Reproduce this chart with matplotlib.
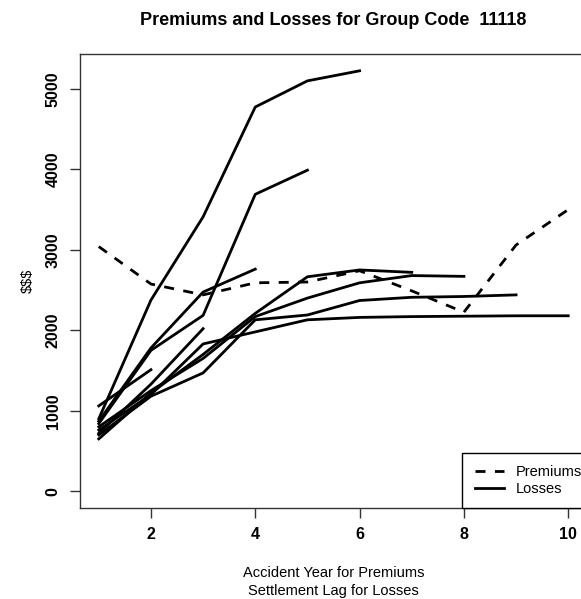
import numpy as np
import matplotlib.pyplot as plt

plt.rcParams['font.family'] = ['Liberation Sans', 'DejaVu Sans']

# accident years 1..10 (premiums) / settlement lags 1..10 (losses)
years = np.arange(1, 11)
premiums = [3040, 2575, 2440, 2590, 2600, 2740, 2490, 2225, 3060, 3500]

# cumulative paid losses, one row per accident year (triangle)
ay1 = [760, 1200, 1830, 1980, 2130, 2160, 2170, 2175, 2180, 2180]
ay2 = [700, 1180, 1470, 2130, 2190, 2370, 2410, 2420, 2440]
ay3 = [800, 1250, 1650, 2170, 2400, 2590, 2680, 2670]
ay4 = [650, 1220, 1700, 2210, 2665, 2750, 2720]
ay5 = [900, 2375, 3410, 4775, 5100, 5225]
ay6 = [840, 1750, 2185, 3690, 3990]
ay7 = [870, 1780, 2475, 2760]
ay8 = [720, 1330, 2020]
ay9 = [1060, 1510]
losses = [ay1, ay2, ay3, ay4, ay5, ay6, ay7, ay8, ay9]

fig = plt.figure(figsize=(5.81, 5.99), dpi=100)
ax = fig.add_axes([80/581, 91/599, 507/581, 454/599])

lw = 2.0
ax.plot(years, premiums, color='black', lw=lw, dashes=(3.6, 3.4), label='Premiums')
for i, row in enumerate(losses):
    ax.plot(years[:len(row)], row, color='black', lw=lw,
            label='Losses' if i == 0 else None)

ax.set_xlim(0.64, 10.36)
ax.set_ylim(-209, 5434)
ax.set_xticks([2, 4, 6, 8, 10])
ax.set_yticks([0, 1000, 2000, 3000, 4000, 5000])
ax.tick_params(direction='out', length=7, width=1, color='#333333', labelsize=11.5)
ax.tick_params(axis='x', pad=7)
ax.tick_params(axis='y', pad=7)
for lab in ax.get_xticklabels():
    lab.set_fontweight('bold')
for lab in ax.get_yticklabels():
    lab.set_fontweight('bold')
    lab.set_rotation(90)
    lab.set_va('center')
for sp in ax.spines.values():
    sp.set_color('#333333')
    sp.set_linewidth(1)

ax.set_title('Premiums and Losses for Group Code  11118', fontsize=13,
             fontweight='bold', pad=21)
ax.set_xlabel('Accident Year for Premiums\nSettlement Lag for Losses',
              fontsize=10.5, labelpad=17, linespacing=1.35)
ax.set_ylabel('$$$', fontsize=10.5, labelpad=8)

leg = ax.legend(loc='lower right', bbox_to_anchor=(1.014, 0), borderaxespad=0,
                fancybox=False, edgecolor='black', framealpha=1,
                fontsize=10.5, handlelength=2.0, handletextpad=0.8,
                borderpad=0.85, labelspacing=0.15)
leg.get_frame().set_linewidth(1)

fig.savefig('out.png', dpi=100)
